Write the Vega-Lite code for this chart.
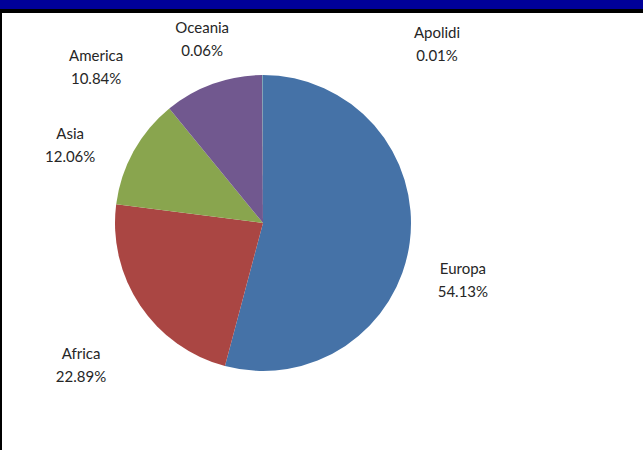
{
  "$schema": "https://vega.github.io/schema/vega-lite/v6.json",
  "width": 660,
  "height": 450,
  "autosize": {"type": "none"},
  "padding": {"top": 11, "left": 0, "right": 0, "bottom": 0},
  "background": "#000099",
  "view": {"fill": "white", "stroke": "black", "strokeWidth": 4},
  "config": {"style": {"view": {"fill": "white", "stroke": "black", "strokeWidth": 4}}},
  "data": {
    "values": [
      {"country": "Europa", "value": 0.5413},
      {"country": "Africa", "value": 0.2289},
      {"country": "Asia", "value": 0.1206},
      {"country": "America", "value": 0.1084},
      {"country": "Oceania", "value": 0.0006},
      {"country": "Apolidi", "value": 0.0001}
    ]
  },
  "encoding": {
    "theta": {"field": "value", "type": "quantitative", "stack": true},
    "order": {"field": "value", "type": "quantitative", "sort": "descending"}
  },
  "layer": [
    {
      "mark": {"type": "arc", "outerRadius": 148, "x": 263, "y": 212},
      "encoding": {
        "color": {
          "field": "country",
          "type": "nominal",
          "scale": {
            "domain": ["Europa", "Africa", "Asia", "America", "Oceania", "Apolidi"],
            "range": ["#4572A7", "#AA4643", "#89A54E", "#71588F", "#4198AF", "#DB843D"]
          },
          "legend": null
        }
      }
    },
    {
      "mark": {
        "type": "text",
        "x": 263,
        "y": 212,
        "radius": {"expr": "datum.country === 'Europa' ? 208 : datum.country === 'Africa' ? 231 : datum.country === 'Asia' ? 208 : datum.country === 'America' ? 228 : datum.country === 'Oceania' ? 193 : 249"},
        "thetaOffset": {"expr": "datum.country === 'Europa' ? 0.150 : datum.country === 'Africa' ? -0.072 : datum.country === 'Asia' ? -0.122 : datum.country === 'America' ? -0.476 : datum.country === 'Oceania' ? -0.318 : 0.774"},
        "dy": -11.5,
        "font": "Lato",
        "fontSize": 15,
        "color": "#262626",
        "align": "center",
        "baseline": "middle"
      },
      "encoding": {"text": {"field": "country", "type": "nominal"}}
    },
    {
      "mark": {
        "type": "text",
        "x": 263,
        "y": 212,
        "radius": {"expr": "datum.country === 'Europa' ? 208 : datum.country === 'Africa' ? 231 : datum.country === 'Asia' ? 208 : datum.country === 'America' ? 228 : datum.country === 'Oceania' ? 193 : 249"},
        "thetaOffset": {"expr": "datum.country === 'Europa' ? 0.150 : datum.country === 'Africa' ? -0.072 : datum.country === 'Asia' ? -0.122 : datum.country === 'America' ? -0.476 : datum.country === 'Oceania' ? -0.318 : 0.774"},
        "dy": 11.5,
        "font": "Lato",
        "fontSize": 15,
        "color": "#262626",
        "align": "center",
        "baseline": "middle"
      },
      "encoding": {"text": {"field": "value", "type": "quantitative", "format": ".2%"}}
    }
  ]
}
